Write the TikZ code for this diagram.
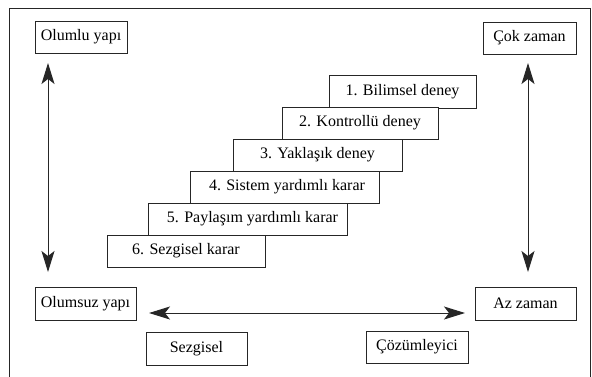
\documentclass[tikz,border=0pt]{standalone}
\usepackage{fontspec}
\setmainfont{Liberation Serif}
\usetikzlibrary{arrows.meta}
\begin{document}
\begin{tikzpicture}[x=1pt,y=-1pt,
  box/.style={draw=black!85, fill=white, line width=0.9pt, inner sep=0pt, font=\fontsize{16}{18}\selectfont},
  arr/.style={draw=black!85, line width=1pt, {Stealth[length=21pt,width=13pt,inset=5pt]}-{Stealth[length=21pt,width=13pt,inset=5pt]}}]
\useasboundingbox (0,0) rectangle (592,376);
\draw[line width=1pt, black!85] (9,378) -- (9,8) -- (590,8) -- (590,378);
% corner boxes
\node[box, minimum width=92pt, minimum height=32pt] (olumlu) at (81,37) {Olumlu yapı};
\node[box, minimum width=93pt, minimum height=32pt] (cok) at (529.5,38) {Çok zaman};
\node[box, minimum width=101pt, minimum height=33pt] (olumsuz) at (85.5,303.5) {Olumsuz yapı};
\node[box, minimum width=101pt, minimum height=33pt] (az) at (525.5,303.5) {Az zaman};
\node[box, minimum width=101pt, minimum height=33pt] (sezgisel) at (196.5,348.5) {Sezgisel};
\node[box, minimum width=102pt, minimum height=32pt] (cozum) at (417,347) {Çözümleyici};
% stairs
\node[box, minimum width=147pt, minimum height=33pt] (s1) at (402.5,91.5) {1. Bilimsel deney};
\node[box, minimum width=156pt, minimum height=32pt] (s2) at (360,123) {2. Kontrollü deney};
\node[box, minimum width=169pt, minimum height=32pt] (s3) at (317.5,155) {3. Yaklaşık deney\hspace{16pt}};
\node[box, minimum width=189pt, minimum height=32pt] (s4) at (284.5,187) {\hspace{5pt}4. Sistem yardımlı karar};
\node[box, minimum width=199pt, minimum height=32pt] (s5) at (247.5,219) {\hspace{10pt}5. Paylaşım yardımlı karar};
\node[box, minimum width=158pt, minimum height=32pt] (s6) at (186,251) {6. Sezgisel karar\hspace{20pt}};
% arrows
\coordinate (l1) at (48,63);
\coordinate (l2) at (48,272);
\coordinate (r1) at (528,63);
\coordinate (r2) at (528,272);
\coordinate (h1) at (149,313);
\coordinate (h2) at (465,313);
\draw[arr] (l1) -- (l2);
\draw[arr] (r1) -- (r2);
\draw[arr] (h1) -- (h2);
\end{tikzpicture}
\end{document}
